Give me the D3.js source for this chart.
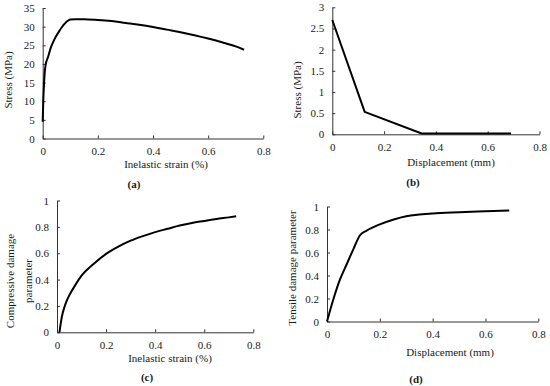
<!DOCTYPE html>
<html>
<head>
<meta charset="utf-8">
<script src="https://cdn.jsdelivr.net/npm/d3@7/dist/d3.min.js"></script>
<style>
  html, body { margin: 0; padding: 0; background: #fff; }
  svg { display: block; }
  text { font-family: "Liberation Serif", "Times New Roman", serif; fill: #1a1a1a; }
</style>
</head>
<body>
<svg id="chart" width="550" height="386"></svg>
<script>
// ---- Data ----
// (a) compressive stress vs inelastic strain
const compStrain = [0, 0.002, 0.005, 0.01, 0.02, 0.03, 0.04, 0.05, 0.06, 0.07, 0.08, 0.09, 0.1, 0.12, 0.15, 0.2, 0.25, 0.3, 0.35, 0.4, 0.45, 0.5, 0.55, 0.6, 0.65, 0.7, 0.73];
const compStress = [4.5, 10, 15, 19.5, 22, 24.5, 26.2, 27.6, 28.8, 29.9, 30.8, 31.5, 31.9, 32, 31.95, 31.8, 31.5, 31.0, 30.5, 29.9, 29.2, 28.5, 27.7, 26.8, 25.8, 24.7, 23.8];
// (b) tensile stress vs displacement
const tenDisp = [0, 0.125, 0.345, 0.69];
const tenStress = [2.7, 0.53, 0.02, 0.02];
// (c) compressive damage vs inelastic strain
const dcStrain = [0.01, 0.02, 0.03, 0.04, 0.05, 0.075, 0.1, 0.15, 0.2, 0.25, 0.3, 0.35, 0.4, 0.45, 0.5, 0.55, 0.6, 0.65, 0.7, 0.73];
const dcValue = [0, 0.12, 0.19, 0.24, 0.28, 0.36, 0.43, 0.52, 0.595, 0.65, 0.695, 0.73, 0.76, 0.785, 0.81, 0.83, 0.845, 0.86, 0.872, 0.88];
// (d) tensile damage vs displacement
const dtDisp = [0, 0.025, 0.05, 0.075, 0.1, 0.125, 0.15, 0.2, 0.25, 0.3, 0.35, 0.4, 0.5, 0.6, 0.69];
const dtValue = [0, 0.2, 0.37, 0.5, 0.63, 0.75, 0.79, 0.845, 0.885, 0.915, 0.93, 0.94, 0.95, 0.958, 0.965];

// tick labels
const xTicks = [0, 0.2, 0.4, 0.6, 0.8];
const xTickLabels = ["0", "0.2", "0.4", "0.6", "0.8"];
const yTicksA = [0, 5, 10, 15, 20, 25, 30, 35];
const yTickLabelsA = ["0", "5", "10", "15", "20", "25", "30", "35"];
const yTicksB = [0, 0.5, 1, 1.5, 2, 2.5, 3];
const yTickLabelsB = ["0", "0.5", "1", "1.5", "2", "2.5", "3"];
const yTicksD = [0, 0.2, 0.4, 0.6, 0.8, 1];
const yTickLabelsD = ["0", "0.2", "0.4", "0.6", "0.8", "1"];

const svg = d3.select("#chart");
const FS = 11;

function panel(cfg) {
  const x = d3.scaleLinear().domain([0, 0.8]).range([cfg.x0, cfg.x1]);
  const y = d3.scaleLinear().domain([0, cfg.ymax]).range([cfg.y0, cfg.y1]);
  const g = svg.append("g");

  // x axis
  const xa = g.append("g").attr("transform", `translate(0,${cfg.y0})`)
    .call(d3.axisBottom(x).tickValues(xTicks).tickSizeInner(-3).tickSizeOuter(0)
      .tickFormat((d, i) => xTickLabels[i]).tickPadding(7));
  // y axis
  const ya = g.append("g").attr("transform", `translate(${cfg.x0},0)`)
    .call(d3.axisLeft(y).tickValues(cfg.yTicks).tickSizeInner(-3).tickSizeOuter(0)
      .tickFormat((d, i) => cfg.yLabels[i]).tickPadding(8));
  [xa, ya].forEach(a => {
    a.select(".domain").attr("stroke", "#333").attr("stroke-width", 1);
    a.selectAll(".tick line").attr("stroke", "#333").attr("stroke-width", 1);
    a.selectAll(".tick text").style("font-family", '"Liberation Serif", serif')
      .style("font-size", FS + "px").attr("fill", "#1a1a1a");
  });
  xa.selectAll(".tick text").attr("dy", "0.9em");

  // curve
  const pts = cfg.xs.map((v, i) => [v, cfg.ys[i]]);
  g.append("path").datum(pts)
    .attr("fill", "none").attr("stroke", "#000").attr("stroke-width", 2)
    .attr("stroke-linejoin", "round")
    .attr("d", d3.line().x(d => x(d[0])).y(d => y(d[1])).curve(cfg.curve));

  // x title
  g.append("text").attr("x", cfg.xtX).attr("y", cfg.xtY).attr("text-anchor", "middle")
    .style("font-size", FS + "px").text(cfg.xTitle);
  // y title (may be multiline)
  cfg.yTitle.forEach((t, i) => {
    g.append("text")
      .attr("transform", `translate(${cfg.ytX + i * 18},${cfg.ytY}) rotate(-90)`)
      .attr("text-anchor", "middle").attr("dy", "0.35em")
      .style("font-size", FS + "px").text(t);
  });
  // panel label
  g.append("text").attr("x", cfg.lX).attr("y", cfg.lY).attr("text-anchor", "middle")
    .style("font-size", FS + "px").style("font-weight", "bold").text(cfg.label);
}

panel({ x0: 42.7, x1: 263.3, y0: 138.5, y1: 8, ymax: 35, yTicks: yTicksA, yLabels: yTickLabelsA,
  xs: compStrain, ys: compStress, curve: d3.curveMonotoneX,
  xTitle: "Inelastic strain (%)", xtX: 166, xtY: 168,
  yTitle: ["Stress (MPa)"], ytX: 8, ytY: 80, label: "(a)", lX: 134, lY: 188 });

panel({ x0: 332.3, x1: 539.5, y0: 134.3, y1: 7.3, ymax: 3, yTicks: yTicksB, yLabels: yTickLabelsB,
  xs: tenDisp, ys: tenStress, curve: d3.curveLinear,
  xTitle: "Displacement (mm)", xtX: 451, xtY: 166,
  yTitle: ["Stress (MPa)"], ytX: 297, ytY: 90, label: "(b)", lX: 413, lY: 186 });

panel({ x0: 57, x1: 253.3, y0: 332.3, y1: 200.5, ymax: 1, yTicks: yTicksD, yLabels: yTickLabelsD,
  xs: dcStrain, ys: dcValue, curve: d3.curveMonotoneX,
  xTitle: "Inelastic strain (%)", xtX: 170, xtY: 362,
  yTitle: ["Compressive damage", "parameter"], ytX: 10, ytY: 281, label: "(c)", lX: 147, lY: 381 });

panel({ x0: 327, x1: 538.3, y0: 321.5, y1: 206.5, ymax: 1, yTicks: yTicksD, yLabels: yTickLabelsD,
  xs: dtDisp, ys: dtValue, curve: d3.curveMonotoneX,
  xTitle: "Displacement (mm)", xtX: 450, xtY: 356,
  yTitle: ["Tensile damage parameter"], ytX: 292, ytY: 268, label: "(d)", lX: 416, lY: 383 });
</script>
</body>
</html>
